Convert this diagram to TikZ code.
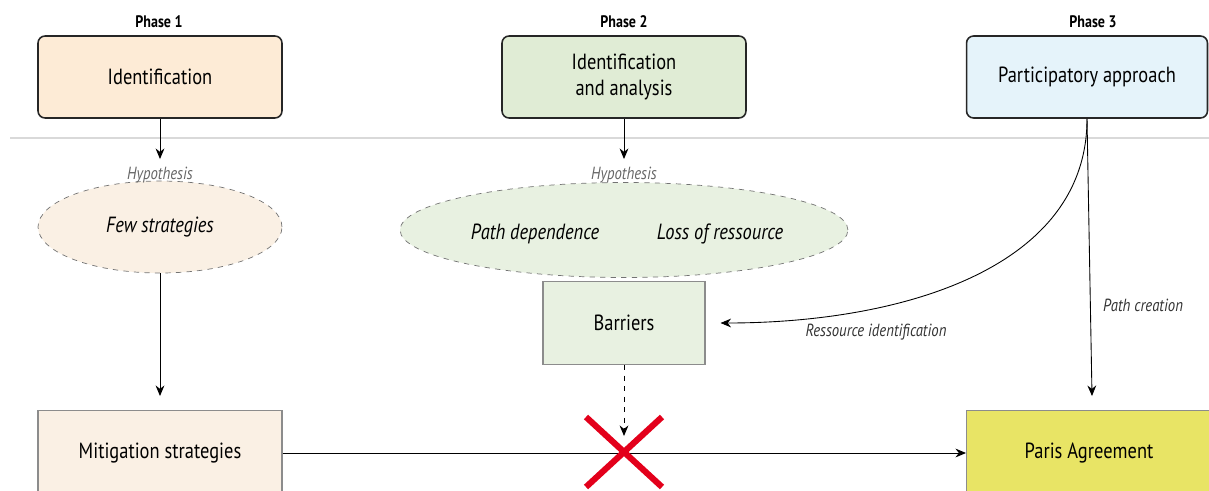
\documentclass[tikz,border=0pt]{standalone}
\usepackage{fontspec}
\setmainfont[FakeStretch=0.84]{PT Sans}
\usetikzlibrary{shapes.geometric,arrows.meta}
\definecolor{peach}{HTML}{FDEBD6}
\definecolor{peachlight}{HTML}{FAF0E4}
\definecolor{greenbox}{HTML}{E0ECD5}
\definecolor{greenlight}{HTML}{E8F1E1}
\definecolor{bluebox}{HTML}{E5F3FA}
\definecolor{parisyellow}{HTML}{E8E465}
\definecolor{crossred}{HTML}{E3001B}
\begin{document}
\begin{tikzpicture}[x=0.02cm, y=-0.02cm,
    phasebox/.style={draw=black!85, line width=0.9pt, rounded corners=4pt, minimum width=4.88cm, minimum height=1.64cm, align=center, font=\fontsize{12.5}{15}\selectfont},
    phasetitle/.style={font=\fontsize{9.5}{11}\bfseries\selectfont},
    hypo/.style={draw=black!55, dashed, ellipse, minimum height=1.84cm, font=\fontsize{12.5}{15}\itshape\selectfont},
    hypotitle/.style={text=black!60, font=\fontsize{10}{12}\itshape\selectfont},
    plainbox/.style={draw=black!45, line width=0.6pt, minimum width=4.88cm, minimum height=1.9cm, font=\fontsize{12.5}{15}\selectfont},
    lbl/.style={font=\fontsize{10}{12}\itshape\selectfont, text=black!80},
    arr/.style={-{Stealth[length=6pt, width=5pt]}, line width=0.5pt}]
    \clip (0,0) rectangle (1209,490);
    \useasboundingbox (0,0) rectangle (1209,490);
    % phases
    \node[phasetitle] (t1) at (159,22) {Phase 1};
    \node[phasetitle] (t2) at (624,22) {Phase 2};
    \node[phasetitle] (t3) at (1093,22) {Phase 3};
    \node[phasebox, fill=peach] (p1) at (160,77) {Identification};
    \node[phasebox, fill=greenbox] (p2) at (624,77) {Identification\\and analysis};
    \node[phasebox, fill=bluebox, minimum width=4.82cm] (p3) at (1087,77) {Participatory approach};
    \draw[black!15, line width=0.8pt] (10,138) -- (1209,138);
    % hypotheses
    \node[hypo, fill=peachlight, minimum width=4.88cm] (h1) at (160,227) {Few strategies};
    \node[hypo, fill=greenlight, minimum width=8.96cm, minimum height=1.9cm] (h2) at (624,230) {};
    \node[font=\fontsize{12.5}{15}\itshape\selectfont] (pd) at (535,234) {Path dependence};
    \node[font=\fontsize{12.5}{15}\itshape\selectfont] (lr) at (720,234) {Loss of ressource};
    \node[hypotitle] (ht1) at (160,175) {Hypothesis};
    \node[hypotitle] (ht2) at (624,175) {Hypothesis};
    \draw[arr] (p1.south) -- ([yshift=1pt]ht1.north);
    \draw[arr] (p2.south) -- ([yshift=1pt]ht2.north);
    % barriers and outcomes
    \node[plainbox, fill=greenlight, minimum width=3.24cm, minimum height=1.66cm] (bar) at (624,323) {Barriers};
    \node[plainbox, fill=peachlight, anchor=north] (mit) at (160,410) {};
    \node[font=\fontsize{12.5}{15}\selectfont] (mitt) at (160,453) {Mitigation strategies};
    \node[plainbox, fill=parisyellow, anchor=north west] (pa) at (966,410) {};
    \node[font=\fontsize{12.5}{15}\selectfont] (pat) at (1089,453) {Paris Agreement};
    \coordinate (cross) at (624,452);
    \draw[arr] (h1.south) -- ([shift={(0,-14)}]mit.north);
    \draw[arr] (mit.east |- mitt) -- (pa.west |- pat);
    \draw[arr, dashed] (bar.south) -- ([shift={(0,-16)}]cross);
    \draw[crossred, line width=3.5pt] ([shift={(-38,-35)}]cross) -- ([shift={(38,35)}]cross)
        ([shift={(38,-35)}]cross) -- ([shift={(-38,35)}]cross);
    \draw[arr] (p3.south) .. controls +(0,150) and +(180,0) .. ([shift={(15,0)}]bar.east);
    \node[lbl] (ri) at (876,332) {Ressource identification};
    \draw[arr] (p3.south) -- ([shift={(3,-14)}]pat |- pa.north);
    \node[lbl] (pc) at (1143,305) {Path creation};
\end{tikzpicture}
\end{document}
